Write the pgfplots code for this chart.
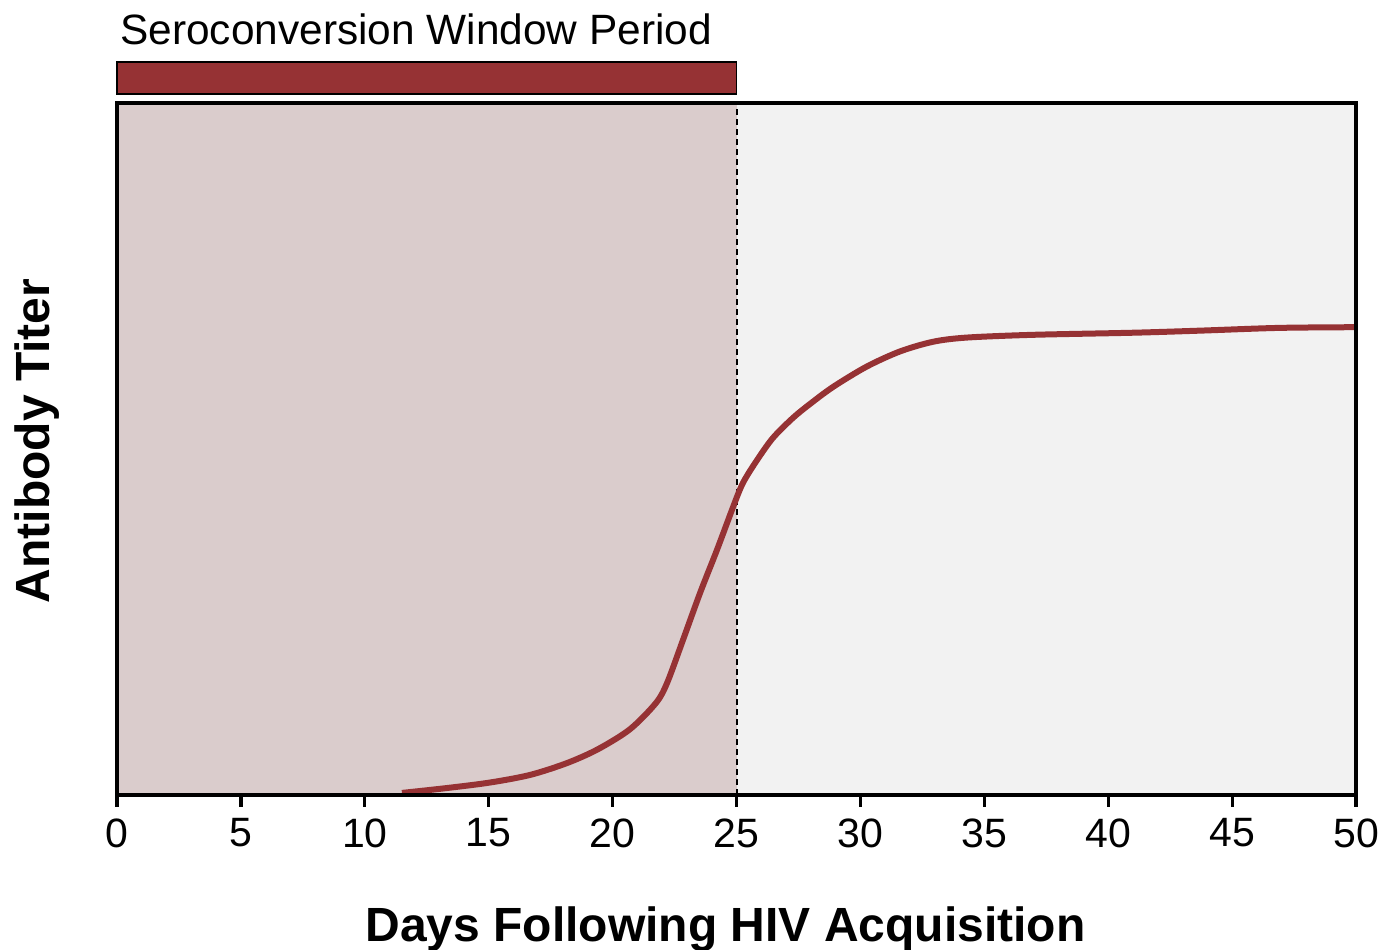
\documentclass[border=0pt]{standalone}
\usepackage{pgfplots}
\pgfplotsset{compat=1.18}
\usepackage{fontspec}
\setmainfont{Liberation Sans}
\definecolor{curvered}{RGB}{150,50,52}
\definecolor{pinkbg}{RGB}{218,204,204}
\definecolor{graybg}{RGB}{242,242,242}
\begin{document}
\begin{tikzpicture}
\begin{axis}[
  name=ax,
  at={(0,0)}, anchor=south west,
  scale only axis,
  width=619.5pt, height=346pt,
  xmin=0, xmax=50, ymin=0, ymax=100,
  xtick={0,5,...,50},
  xtick pos=bottom,
  ytick=\empty,
  tick align=outside,
  major tick length=6pt,
  major tick style={line width=1.6pt, black},
  axis line style={line width=1.75pt},
  axis background/.style={fill=graybg},
  axis on top,
  clip=false,
  /pgf/number format/assume math mode=true,
  xticklabel style={font=\fontsize{20.5}{24}\selectfont, inner sep=0pt, yshift=-5.5pt},
  xlabel={Days Following HIV Acquisition},
  ylabel={Antibody Titer},
  xlabel style={font=\bfseries\fontsize{24}{28}\selectfont, at={(axis description cs:0.4911,-0.211)}, anchor=base, inner sep=0pt},
  ylabel style={font=\bfseries\fontsize{24}{28}\selectfont, at={(axis description cs:-0.0541,0.5116)}, anchor=base, inner sep=0pt},
]
% window period shading
\addplot[fill=pinkbg, draw=none] coordinates {(0,100) (25,100)} \closedcycle;
% seroconversion bar above the axis
\addplot[fill=curvered, draw=black, line width=0.8pt] coordinates {(0,101.3) (25,101.3) (25,105.9) (0,105.9)} -- cycle;
% dashed boundary
\addplot[black, line width=1pt, dash pattern=on 3pt off 2pt] coordinates {(25,0) (25,100)};
% antibody curve
\addplot[curvered, line width=3pt, smooth, tension=0.5] coordinates {
(11.5,0.3) (13.3,1.0) (15.05,1.8) (16.67,2.9) (18.15,4.6) (19.4,6.6)
(20.7,9.5) (21.75,13.3) (22.2,16.2) (22.84,22.4) (23.53,29.2) (24.21,35.4)
(24.86,41.6) (25.26,45.1) (25.83,48.4) (26.47,51.6) (27.28,54.5) (28.0,56.6)
(28.91,59.0) (30.25,61.9) (31.6,64.1) (32.94,65.5) (34.29,66.1) (36.98,66.5)
(41.0,66.8) (43.7,67.1) (46.9,67.5) (50.0,67.6)
};
\node[anchor=base west, inner sep=0pt, font=\fontsize{21.2}{25}\selectfont] at (axis cs:0.12,108.5) {Seroconversion Window Period};
\end{axis}
\pgfresetboundingbox
\path ([shift={(-58.5pt,-77.5pt)}]ax.south west) rectangle ([shift={(14.5pt,51.5pt)}]ax.north east);
\end{tikzpicture}
\end{document}
